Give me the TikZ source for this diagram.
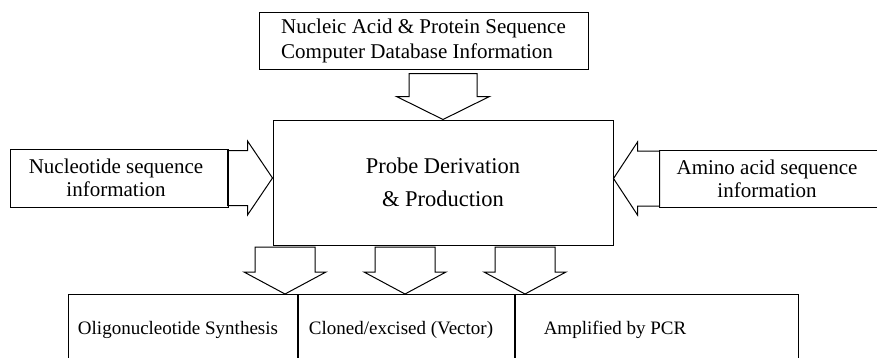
\documentclass[tikz,border=0pt]{standalone}
\usepackage{fontspec}
\setmainfont{Liberation Serif}
\usetikzlibrary{calc}

\tikzset{
  box/.style={draw, line width=1pt, rectangle, inner sep=0pt},
  blockarrow/.style={draw, line width=1pt, line join=miter},
  txt/.style={font=\fontsize{21}{23}\selectfont, align=center, inner sep=0pt}
}

% block arrow pointing down: tip, length, head length, shaft half width, head half width
\newcommand{\blockdown}[5]{%
  \draw[blockarrow] (#1) -- ++(-#5,-#3) -- ++({#5-#4},0) -- ++(0,{-(#2-#3)})
    -- ++({2*#4},0) -- ++(0,{#2-#3}) -- ++({#5-#4},0) -- cycle;}
% block arrow pointing right
\newcommand{\blockright}[5]{%
  \draw[blockarrow] (#1) -- ++(-#3,-#5) -- ++(0,{#5-#4}) -- ++({-(#2-#3)},0)
    -- ++(0,{2*#4}) -- ++({#2-#3},0) -- ++(0,{#5-#4}) -- cycle;}
% block arrow pointing left
\newcommand{\blockleft}[5]{%
  \draw[blockarrow] (#1) -- ++(#3,-#5) -- ++(0,{#5-#4}) -- ++({#2-#3},0)
    -- ++(0,{2*#4}) -- ++({-(#2-#3)},0) -- ++(0,{#5-#4}) -- cycle;}

\begin{document}
\begin{tikzpicture}[x=1pt, y=-1pt]
  \useasboundingbox (0,0) rectangle (877,357);
  \clip (0,0) rectangle (877,357);

  % Database box
  \node[box, minimum width=329, minimum height=57] (db) at (423.5,40.5) {};
  \node[txt, align=left, font=\fontsize{21}{25}\selectfont] (dbt) at (db.center)
    {Nucleic Acid \& Protein Sequence\\Computer Database Information};

  % Central box
  \node[box, minimum width=340, minimum height=125] (prb) at (443,182.5) {};
  \node[txt, font=\fontsize{22.5}{33}\selectfont] (prbt) at (prb.center)
    {Probe Derivation\\\& Production};

  % Side boxes
  \node[box, minimum width=218, minimum height=58] (nuc) at (119,178) {};
  \node[txt] (nuct) at (116,178) {Nucleotide sequence\\information};
  \node[box, minimum width=240, minimum height=57, anchor=west] (ami) at (659,178.5) {};
  \node[txt] (amit) at (767,178.5) {Amino acid sequence\\information};

  % Bottom boxes (cut at the lower edge)
  \node[box, minimum width=229, minimum height=80, anchor=north west] (olig) at (68,294) {};
  \node[box, minimum width=216, minimum height=80, anchor=north west] (clon) at (olig.north east) {};
  \node[box, minimum width=283, minimum height=80, anchor=north west] (pcr) at (clon.north east) {};
  \node[txt, font=\fontsize{19}{23}\selectfont] (oligt) at (178,330) {Oligonucleotide Synthesis};
  \node[txt, font=\fontsize{19}{23}\selectfont] (clont) at (401,330) {Cloned/excised (Vector)};
  \node[txt, font=\fontsize{19}{23}\selectfont] (pcrt) at (615,330) {Amplified by PCR};

  % Block arrows
  \blockdown{prb.north}{46}{23}{34}{46.5}
  \blockright{prb.west |- nuc.east}{45}{25}{27.5}{37}
  \blockleft{prb.east |- ami.west}{46}{24}{27.5}{36.5}
  \foreach \x in {285,405,525}{
    \blockdown{\x,0 |- olig.north}{47}{22}{30}{41}
  }
\end{tikzpicture}
\end{document}
